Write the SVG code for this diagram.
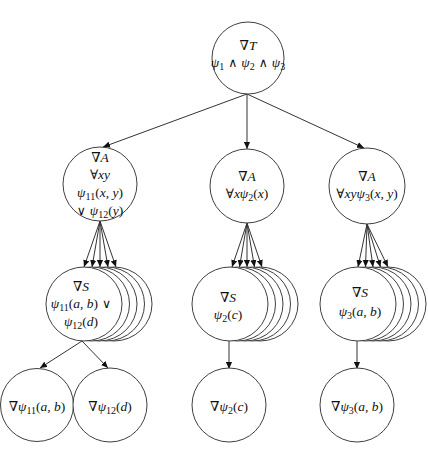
<svg xmlns="http://www.w3.org/2000/svg" width="428" height="462" viewBox="0 0 428 462">
<style>
.n{fill:#fff;stroke:#404040;stroke-width:1}
.e{fill:none;stroke:#333;stroke-width:1}
text{font-family:"Liberation Serif","DejaVu Serif",serif;font-size:13.5px;fill:#111;text-anchor:middle}
.i{font-style:italic}
.s{font-size:10px}
.o{font-family:"DejaVu Serif",serif;font-size:12.5px;font-weight:300}
</style>
<defs>
<marker id="ah" viewBox="0 0 8 8" refX="8" refY="4" markerWidth="7" markerHeight="7" markerUnits="userSpaceOnUse" orient="auto">
<path d="M0,0.5 L8,4 L0,7.5 Z" fill="#111"/>
</marker>
</defs>
<rect width="428" height="462" fill="#fff"/>
<g id="connectors" class="e" marker-end="url(#ah)">
<line x1="247" y1="94" x2="103" y2="147"/>
<line x1="247" y1="94" x2="247" y2="149"/>
<line x1="247" y1="94" x2="364" y2="148"/>
<line x1="100" y1="221" x2="84" y2="267"/>
<line x1="100" y1="221" x2="92" y2="267"/>
<line x1="100" y1="221" x2="100" y2="267"/>
<line x1="100" y1="221" x2="108" y2="267"/>
<line x1="100" y1="221" x2="116" y2="267"/>
<line x1="247" y1="223" x2="232" y2="267"/>
<line x1="247" y1="223" x2="239.5" y2="267"/>
<line x1="247" y1="223" x2="247" y2="267"/>
<line x1="247" y1="223" x2="254.5" y2="267"/>
<line x1="247" y1="223" x2="262" y2="267"/>
<line x1="367" y1="224" x2="358" y2="267"/>
<line x1="367" y1="224" x2="365.5" y2="267"/>
<line x1="367" y1="224" x2="373" y2="267"/>
<line x1="367" y1="224" x2="380.5" y2="267"/>
<line x1="367" y1="224" x2="388" y2="267"/>
<line x1="82" y1="341" x2="40" y2="368"/>
<line x1="82" y1="341" x2="108" y2="368"/>
<line x1="229" y1="341" x2="229" y2="369"/>
<line x1="357" y1="341" x2="357" y2="369"/>
</g>
<g id="T">
<circle class="n" cx="248" cy="58" r="36"/>
<text x="248" y="50">∇<tspan class="i">T</tspan></text>
<text x="248" y="67"><tspan class="i">ψ</tspan><tspan class="s" dy="3">1</tspan><tspan class="o" dy="-3"> ∧ </tspan><tspan class="i">ψ</tspan><tspan class="s" dy="3">2</tspan><tspan class="o" dy="-3"> ∧ </tspan><tspan class="i">ψ</tspan><tspan class="s" dy="3">3</tspan></text>
</g>
<g id="A1">
<circle class="n" cx="100" cy="184" r="37"/>
<text x="100" y="162">∇<tspan class="i">A</tspan></text>
<text x="100" y="179">∀<tspan class="i">xy</tspan></text>
<text x="100" y="197"><tspan class="i">ψ</tspan><tspan class="s" dy="3">11</tspan><tspan dy="-3">(</tspan><tspan class="i">x</tspan>, <tspan class="i">y</tspan>)</text>
<text x="100" y="215"><tspan class="o">∨ </tspan><tspan class="i">ψ</tspan><tspan class="s" dy="3">12</tspan><tspan dy="-3">(</tspan><tspan class="i">y</tspan>)</text>
</g>
<g id="A2">
<circle class="n" cx="247" cy="186" r="37"/>
<text x="247" y="181">∇<tspan class="i">A</tspan></text>
<text x="247" y="198">∀<tspan class="i">xψ</tspan><tspan class="s" dy="3">2</tspan><tspan dy="-3">(</tspan><tspan class="i">x</tspan>)</text>
</g>
<g id="A3">
<circle class="n" cx="367" cy="186" r="38"/>
<text x="367" y="181">∇<tspan class="i">A</tspan></text>
<text x="367" y="198">∀<tspan class="i">xyψ</tspan><tspan class="s" dy="3">3</tspan><tspan dy="-3">(</tspan><tspan class="i">x</tspan>, <tspan class="i">y</tspan>)</text>
</g>
<g id="S1">
<ellipse class="n" cx="114" cy="304" rx="38" ry="37"/>
<ellipse class="n" cx="106.5" cy="304" rx="38" ry="37"/>
<ellipse class="n" cx="99" cy="304" rx="38" ry="37"/>
<ellipse class="n" cx="91.5" cy="304" rx="38" ry="37"/>
<ellipse class="n" cx="84" cy="304" rx="38" ry="37"/>
<text x="81" y="291">∇<tspan class="i">S</tspan></text>
<text x="81" y="308"><tspan class="i">ψ</tspan><tspan class="s" dy="3">11</tspan><tspan dy="-3">(</tspan><tspan class="i">a</tspan>, <tspan class="i">b</tspan>)<tspan class="o"> ∨</tspan></text>
<text x="81" y="326"><tspan class="i">ψ</tspan><tspan class="s" dy="3">12</tspan><tspan dy="-3">(</tspan><tspan class="i">d</tspan>)</text>
</g>
<g id="S2">
<ellipse class="n" cx="260" cy="304" rx="38" ry="37"/>
<ellipse class="n" cx="252.5" cy="304" rx="38" ry="37"/>
<ellipse class="n" cx="245" cy="304" rx="38" ry="37"/>
<ellipse class="n" cx="237.5" cy="304" rx="38" ry="37"/>
<ellipse class="n" cx="230" cy="304" rx="38" ry="37"/>
<text x="228" y="302">∇<tspan class="i">S</tspan></text>
<text x="228" y="319"><tspan class="i">ψ</tspan><tspan class="s" dy="3">2</tspan><tspan dy="-3">(</tspan><tspan class="i">c</tspan>)</text>
</g>
<g id="S3">
<ellipse class="n" cx="388" cy="304" rx="38" ry="37"/>
<ellipse class="n" cx="380.5" cy="304" rx="38" ry="37"/>
<ellipse class="n" cx="373" cy="304" rx="38" ry="37"/>
<ellipse class="n" cx="365.5" cy="304" rx="38" ry="37"/>
<ellipse class="n" cx="358" cy="304" rx="38" ry="37"/>
<text x="360" y="297">∇<tspan class="i">S</tspan></text>
<text x="360" y="316"><tspan class="i">ψ</tspan><tspan class="s" dy="3">3</tspan><tspan dy="-3">(</tspan><tspan class="i">a</tspan>, <tspan class="i">b</tspan>)</text>
</g>
<g id="L1">
<circle class="n" cx="37" cy="405" r="36.5"/>
<text x="37" y="411">∇<tspan class="i">ψ</tspan><tspan class="s" dy="3">11</tspan><tspan dy="-3">(</tspan><tspan class="i">a</tspan>, <tspan class="i">b</tspan>)</text>
</g>
<g id="L2">
<circle class="n" cx="110" cy="405" r="37"/>
<text x="110" y="411">∇<tspan class="i">ψ</tspan><tspan class="s" dy="3">12</tspan><tspan dy="-3">(</tspan><tspan class="i">d</tspan>)</text>
</g>
<g id="L3">
<circle class="n" cx="229" cy="405" r="37"/>
<text x="229" y="411">∇<tspan class="i">ψ</tspan><tspan class="s" dy="3">2</tspan><tspan dy="-3">(</tspan><tspan class="i">c</tspan>)</text>
</g>
<g id="L4">
<circle class="n" cx="357" cy="405" r="37"/>
<text x="357" y="411">∇<tspan class="i">ψ</tspan><tspan class="s" dy="3">3</tspan><tspan dy="-3">(</tspan><tspan class="i">a</tspan>, <tspan class="i">b</tspan>)</text>
</g>
</svg>
